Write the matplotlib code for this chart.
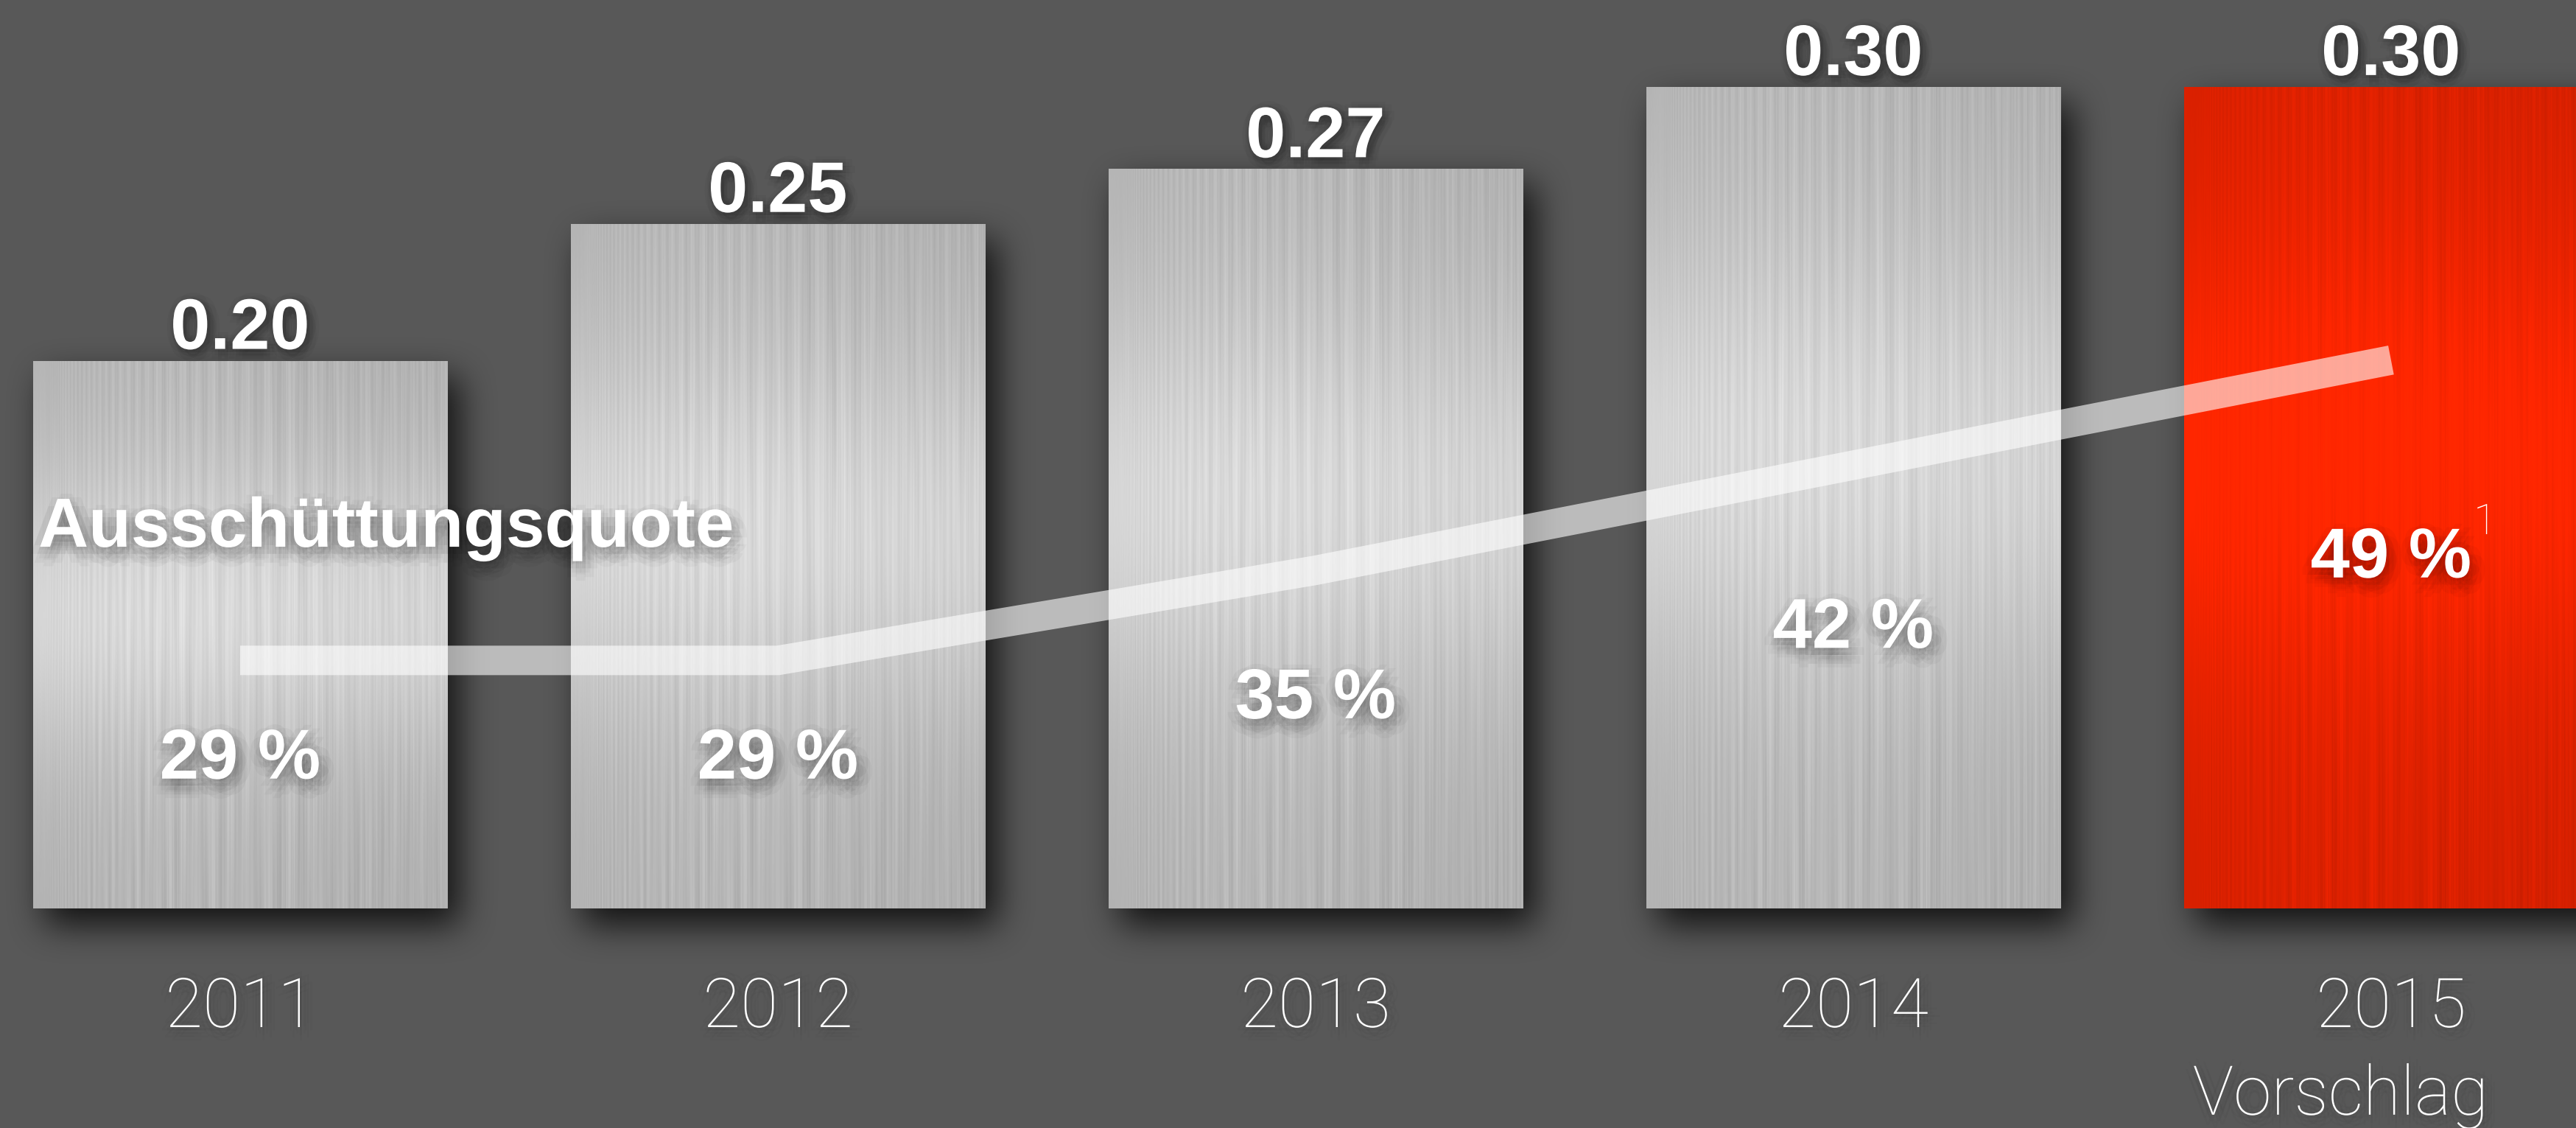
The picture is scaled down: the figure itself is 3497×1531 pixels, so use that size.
import numpy as np
import matplotlib
matplotlib.use("Agg")
import matplotlib.pyplot as plt
from matplotlib import patheffects as pe

# ---------------- data ----------------
years = ["2011", "2012", "2013", "2014", "2015"]
year_notes = ["", "", "", "", "Vorschlag"]
dividend = [0.20, 0.25, 0.27, 0.30, 0.30]
dividend_labels = ["0.20", "0.25", "0.27", "0.30", "0.30"]
payout_ratio = [29, 29, 35, 42, 49]
payout_labels = ["29 %", "29 %", "35 %", "42 %", "49 %"]
payout_footnotes = ["", "", "", "", "1"]
is_proposal = [False, False, False, False, True]
line_name = "Ausschüttungsquote"

# ---------------- style ----------------
W, H, DPI = 3497, 1531, 100
BG = "#585858"
BOLD = ["Liberation Sans", "DejaVu Sans"]
LIGHT = ["Roboto", "DejaVu Sans"]
RED = np.array([1.0, 0.15, 0.0])


def soft_shadow(offset=(2.5, -4.0), radius=8.0, alpha=0.035, rings=(0.0, 0.5, 1.0), n=8):
    fx = []
    for r in rings:
        angs = [0.0] if r == 0 else np.linspace(0, 2 * np.pi, n, endpoint=False)
        for a in angs:
            fx.append(pe.SimplePatchShadow(
                offset=(offset[0] + r * radius * np.cos(a), offset[1] + r * radius * np.sin(a)),
                shadow_rgbFace="black", alpha=alpha))
    fx.append(pe.Normal())
    return fx


def box_blur(a, k, axis):
    pad = k // 2
    widths = [(pad, pad) if i == axis else (0, 0) for i in range(a.ndim)]
    ap = np.pad(a, widths, mode="edge")
    c = np.cumsum(ap, axis=axis)
    c = np.insert(c, 0, 0, axis=axis)
    if axis == 0:
        s = c[k:] - c[:-k]
    else:
        s = c[:, k:] - c[:, :-k]
    return s / k


fig = plt.figure(figsize=(W / DPI, H / DPI), dpi=DPI, facecolor=BG)
ax = fig.add_axes([0, 0, 1, 1])
ax.set_axis_off()
XLIM = (-0.4466, 4.344)
YLIM = (-0.0802, 0.3317)
ax.set_xlim(*XLIM)
ax.set_ylim(*YLIM)

x = np.arange(len(years))
bars = ax.bar(x, dividend, width=0.77, color="#c4c4c4", linewidth=0, zorder=3)
for b, prop in zip(bars, is_proposal):
    if prop:
        b.set_facecolor(RED)

# ---- soft drop shadow of the bars (blurred mask) ----
mask = np.zeros((H, W))
dx, dy = 16, 22
for b in bars:
    (px0, py0), (px1, py1) = ax.transData.transform(
        [(b.get_x(), b.get_y()), (b.get_x() + b.get_width(), b.get_y() + b.get_height())])
    c0, c1 = int(round(px0 + dx)), int(round(px1 + dx))
    r0, r1 = int(round(H - py1 + dy)), int(round(H - py0 + dy))
    mask[max(r0, 0):min(r1, H), max(c0, 0):min(c1, W)] = 1.0
for _ in range(3):
    mask = box_blur(mask, 45, 0)
    mask = box_blur(mask, 45, 1)
shadow = np.zeros((H, W, 4))
shadow[..., 3] = np.clip(mask, 0, 1) * 0.8
ax.imshow(shadow, extent=[0, 1, 0, 1], transform=ax.transAxes, zorder=1,
          aspect="auto", interpolation="nearest")

# ---- brushed-metal texture on the bars ----
cols, rows = 560, 900
u = np.linspace(0, 1, cols)[None, :]
v = np.linspace(0, 1, rows)[:, None]
for i, (b, prop) in enumerate(zip(bars, is_proposal)):
    base = (0.69 + 0.14 * np.exp(-((v - 0.45) / 0.28) ** 2)
            + 0.025 * np.exp(-((u - 0.35) / 0.35) ** 2))
    streak = np.zeros((rows, cols))
    for k in range(85):
        f = 15.0 * 1.035 ** k
        ph = ((k * 0.6180339 + i * 0.37) % 1.0) * 2 * np.pi
        ps = ((k * 0.4142135 + i * 0.21) % 1.0) * 2 * np.pi
        g = 0.6 + ((k * 0.7320508) % 1.0) * 2.0
        amp = 0.0042
        streak += amp * np.sin(2 * np.pi * f * u + ph) * (0.55 + 0.45 * np.sin(2 * np.pi * g * v + ps))
    bright = base + streak
    if prop:
        fac = (bright / 0.83)[..., None]
        img = np.clip(fac * RED[None, None, :], 0, 1)
    else:
        img = np.clip(np.repeat(bright[..., None], 3, axis=2), 0, 1)
    x0, w, hgt = b.get_x(), b.get_width(), b.get_height()
    im = ax.imshow(img, extent=(x0, x0 + w, 0, hgt), aspect="auto",
                   interpolation="bilinear", zorder=4)
    im.set_clip_path(b)

ax.set_xlim(*XLIM)
ax.set_ylim(*YLIM)

# ---- dividend value labels ----
for xi, val, lab in zip(x, dividend, dividend_labels):
    ax.annotate(lab, xy=(xi, val), xytext=(0, 11.5), textcoords="offset points",
                ha="center", va="baseline", fontsize=70, fontweight="bold",
                family=BOLD, color="white", zorder=6,
                path_effects=soft_shadow(offset=(3, -3), radius=9, alpha=0.03))

# ---- year labels ----
for xi, yr, note in zip(x, years, year_notes):
    ax.annotate(yr, xy=(xi, 0), xytext=(0, -116), textcoords="offset points",
                ha="center", va="baseline", fontsize=67, fontweight="light",
                family=LIGHT, color="white", zorder=6,
                path_effects=soft_shadow(offset=(2, -3), radius=10, alpha=0.015))
    if note:
        ax.annotate(note, xy=(xi, 0), xytext=(95, -201.6), textcoords="offset points",
                    ha="right", va="baseline", fontsize=67, fontweight="light",
                    family=LIGHT, color="white", zorder=6,
                    path_effects=soft_shadow(offset=(2, -3), radius=10, alpha=0.015))

# ---- payout ratio line ----
ax_line = ax.twinx()
ax_line.set_axis_off()
ax_line.set_ylim(-2.14, 72.98)
ax_line.plot(x, payout_ratio, color="white", alpha=0.6, lw=28.8,
             solid_capstyle="butt", solid_joinstyle="miter", zorder=5)
ax_line.set_xlim(*XLIM)

# ---- payout ratio labels ----
ax_lbl = ax.twinx()
ax_lbl.set_axis_off()
ax_lbl.set_ylim(-8.29, 103.88)
for xi, q, lab, fn in zip(x, payout_ratio, payout_labels, payout_footnotes):
    t = ax_lbl.annotate(lab, xy=(xi, q), xytext=(0, -25), textcoords="offset points",
                        ha="center", va="baseline", fontsize=69, fontweight="bold",
                        family=BOLD, color="white", zorder=7,
                        path_effects=soft_shadow(offset=(3, -7), radius=12, alpha=0.03))
    if fn:
        ax_lbl.annotate(fn, xy=(1, 1), xycoords=t, xytext=(2, 23), textcoords="offset points",
                        ha="left", va="top", fontsize=41, fontweight="light",
                        family=LIGHT, color="white", zorder=7)

ax_lbl.text(0.01487, 0.5153, line_name, transform=ax_lbl.transAxes, ha="left",
            va="baseline", fontsize=68, fontweight="bold", family=BOLD, color="white",
            zorder=8, path_effects=soft_shadow(offset=(3, -7), radius=12, alpha=0.03))
ax_lbl.set_xlim(*XLIM)

fig.savefig("out.png", dpi=DPI, facecolor=BG)
